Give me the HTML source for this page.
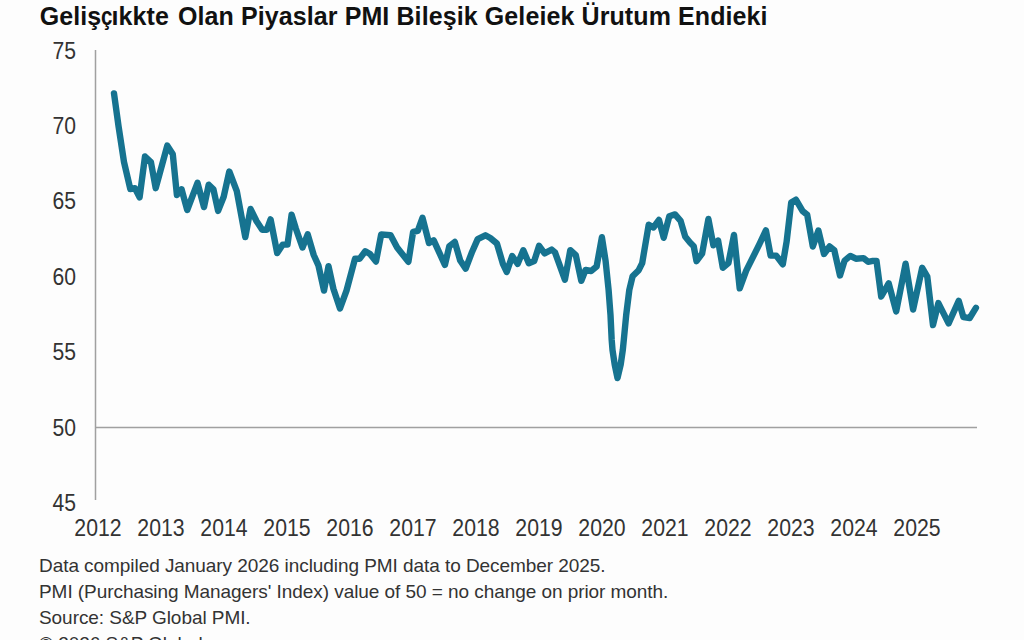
<!DOCTYPE html>
<html><head><meta charset="utf-8">
<style>
html,body{margin:0;padding:0;}
body{width:1024px;height:640px;overflow:hidden;background:#fdfdfd;position:relative;font-family:"Liberation Sans",sans-serif;color:#333;}
.title{position:absolute;left:39.7px;top:1.7px;font-size:25px;font-weight:bold;color:#111;white-space:nowrap;letter-spacing:0.1px;}
.yl{position:absolute;left:20px;width:56px;text-align:right;font-size:24px;line-height:26px;color:#333;transform:scaleX(0.88);transform-origin:right center;}
.xl{position:absolute;top:514.8px;width:80px;text-align:center;font-size:24px;line-height:26px;color:#333;transform:scaleX(0.885);}
.fn{position:absolute;left:39px;font-size:19px;line-height:26px;color:#333;white-space:nowrap;letter-spacing:-0.06px;}
svg{position:absolute;left:0;top:0;}
</style></head><body>
<div class="title">Geliş<span style="display:inline-block;transform:scaleX(0.82);transform-origin:left center;margin-right:-3.8px">ç</span>ıkkte<span style="margin-left:1.8px"> </span>Olan Piyaslar PMI Bileşik Geleiek Ürutum Endieki</div>
<svg width="1024" height="640" viewBox="0 0 1024 640">
<line x1="95.5" y1="50" x2="95.5" y2="500" stroke="#a0a0a0" stroke-width="1.5"/>
<line x1="95.5" y1="427.5" x2="977" y2="427.5" stroke="#a0a0a0" stroke-width="1.5"/>
<polyline points="114,93.4 118.5,126 124,162 130.3,189 135,188.2 139.6,197.3 145,156.5 150.9,162 155.7,188.2 167.3,145.6 172.8,154.3 176.9,195 181.6,189.3 187.2,210 197.5,182.8 204,207.1 208.7,184.7 213.4,189.3 218.1,210.9 223.7,196.8 229.3,171.5 236.8,191.2 245.3,237.1 250.5,209 256.6,221.2 262.2,229.7 266.9,229.7 270.6,219.4 277.2,253.1 282.8,244.6 287.5,244.6 291.6,214.7 295.9,228.7 302.5,247.5 307.7,234.3 313.7,255 318.4,265.3 324,290.6 328.5,266.2 333.4,288.7 340,308.4 346.5,290.6 355,258.7 359.7,258.7 365.3,251.2 370,254 376,261.5 381.2,234.4 390.6,235.3 397.1,247.5 408.4,261.8 413.1,231.9 417.8,230.9 422.5,217.8 429,243.1 433.7,240.3 444.9,264.9 449.3,246.3 454.8,241.9 460.2,260.5 465.7,268.7 471.7,252.8 477.7,239.1 485.4,235.3 490.3,238 496.9,243.5 502.9,263.8 506.7,272 512.2,256.1 517.7,263.8 523.3,250.2 528.8,263.3 534.2,261.1 539.1,245.8 544.6,253.4 551.7,249.6 555,252.4 564.9,279.7 570.3,250.2 575.8,255.1 581.3,280.8 585.6,269.9 591.1,271 596.6,266.6 601.9,237.2 605.6,261 608.6,290 610.5,315 611.7,340 612.5,350 614.7,364.5 617.5,378 620.7,364.5 622.8,350 623.8,340 626.2,315 629.3,290 632.6,276.2 638.7,270.2 642.2,263.1 648.7,224.7 653.4,227.5 659,220 663.7,237.8 669.3,216.2 675,214.4 680.6,220.9 685.3,236.8 690,242.5 693.7,246.2 696.5,261.2 702.1,253.7 708.4,219 713.4,245.3 718.1,240.6 722.8,267.8 728.4,263.1 734,235 739.7,288.4 746.2,270.6 753.7,255.6 759.3,244.3 765.9,230.3 770.6,255.6 776.2,255.6 782.8,264.3 786.6,241.8 791.2,202.5 795.9,199.7 802.5,210.9 807.2,214.7 812.8,246.5 818.4,230.6 824,254 829.6,246.5 834.3,250.3 840,275.5 844.6,260.6 850.3,255.9 855.9,258.7 863.4,258.1 868.1,261.8 872.8,260.9 876.5,260.9 881.2,296.5 888.7,283.4 896.2,311.5 905.6,263.7 913.1,309.6 922.2,267.8 927.3,276.7 933,325 938.4,303.1 948.6,323.4 958.75,300.8 963.4,317.2 969.7,318 975.9,307.8" fill="none" stroke="#167390" stroke-width="6.4" stroke-linejoin="round" stroke-linecap="round"/>
</svg>
<div class="yl" style="top:37.5px">75</div>
<div class="yl" style="top:112.9px">70</div>
<div class="yl" style="top:188.3px">65</div>
<div class="yl" style="top:263.7px">60</div>
<div class="yl" style="top:339.1px">55</div>
<div class="yl" style="top:414.5px">50</div>
<div class="yl" style="top:489.9px">45</div>

<div class="xl" style="left:57.7px">2012</div>
<div class="xl" style="left:120.7px">2013</div>
<div class="xl" style="left:183.7px">2014</div>
<div class="xl" style="left:246.7px">2015</div>
<div class="xl" style="left:309.7px">2016</div>
<div class="xl" style="left:372.7px">2017</div>
<div class="xl" style="left:435.7px">2018</div>
<div class="xl" style="left:498.7px">2019</div>
<div class="xl" style="left:561.7px">2020</div>
<div class="xl" style="left:624.7px">2021</div>
<div class="xl" style="left:687.7px">2022</div>
<div class="xl" style="left:750.7px">2023</div>
<div class="xl" style="left:813.7px">2024</div>
<div class="xl" style="left:876.7px">2025</div>

<div class="fn" style="top:553.2px">Data compiled January 2026 including PMI data to December 2025.</div>
<div class="fn" style="top:578.7px">PMI (Purchasing Managers' Index) value of 50 = no change on prior month.</div>
<div class="fn" style="top:605px">Source: S&amp;P Global PMI.</div>
<div class="fn" style="top:630.5px">© 2026 S&amp;P Global.</div>
</body></html>
